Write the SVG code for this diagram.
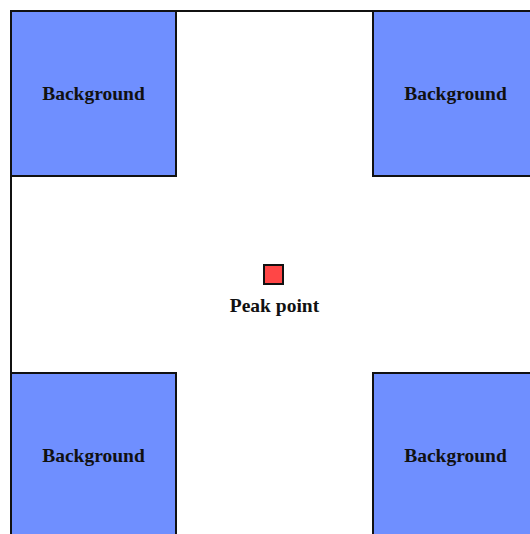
<svg xmlns="http://www.w3.org/2000/svg" width="530" height="534" viewBox="0 0 530 534">
<style>
.bg{fill:#6f8fff;stroke:#111;stroke-width:2}
.t{font-family:"Liberation Serif",serif;font-weight:bold;font-size:19.5px;fill:#111;text-anchor:middle}
</style>
<rect width="530" height="534" fill="#fff"/>
<g id="frame"><rect x="11" y="11" width="527" height="527" fill="#fff" stroke="#111" stroke-width="2"/></g>
<g id="bg-tl"><rect class="bg" x="11" y="11" width="165" height="165"/><text class="t" x="93.5" y="100">Background</text></g>
<g id="bg-tr"><rect class="bg" x="373" y="11" width="165" height="165"/><text class="t" x="455.5" y="100">Background</text></g>
<g id="bg-bl"><rect class="bg" x="11" y="373" width="165" height="165"/><text class="t" x="93.5" y="462">Background</text></g>
<g id="bg-br"><rect class="bg" x="373" y="373" width="165" height="165"/><text class="t" x="455.5" y="462">Background</text></g>
<g id="peak"><rect x="264" y="265" width="19" height="19" fill="#ff4646" stroke="#111" stroke-width="2"/><text class="t" x="274.5" y="312">Peak point</text></g>
<g id="connectors"/>
</svg>
